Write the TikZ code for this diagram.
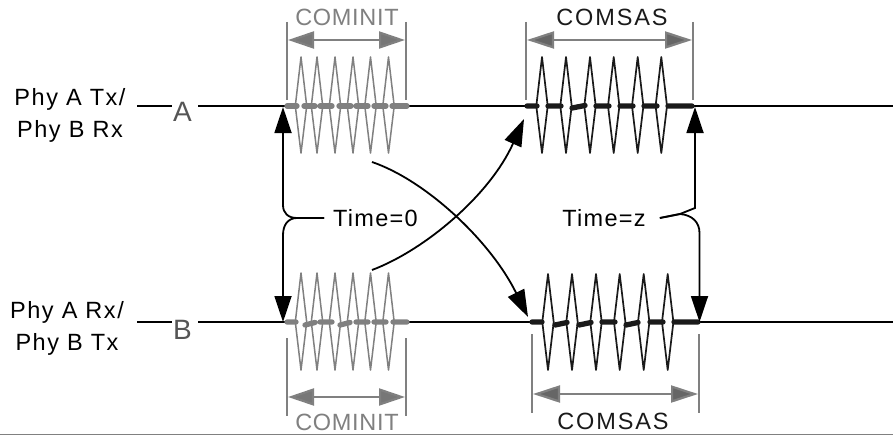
\documentclass[tikz,border=0pt]{standalone}
\usepackage{fontspec}
\usepackage{tikz}
\usetikzlibrary{arrows.meta}

\setmainfont{Liberation Sans}
\newfontfamily\phyfont[LetterSpace=6.5]{Liberation Sans}
\newfontfamily\timefont[LetterSpace=5.5]{Liberation Sans}
\newfontfamily\cominitfont[LetterSpace=3]{Liberation Sans}
\newfontfamily\comsasfont[LetterSpace=8]{Liberation Sans}

\definecolor{initgray}{HTML}{808080}
\definecolor{inithead}{HTML}{777777}
\definecolor{sashead}{HTML}{666666}
\definecolor{sasblack}{HTML}{1A1A1A}
\definecolor{lettergray}{HTML}{555555}

\tikzset{
  wire/.style={line width=1.8pt, black},
  timearrow/.style={line width=1.8pt, black, -{Triangle[length=26pt,width=17pt]}},
  flyarrow/.style={line width=1.8pt, black, -{Triangle[length=27pt,width=18pt]}},
  initspike/.style={line width=1.5pt, initgray, line join=round},
  sasspike/.style={line width=1.7pt, sasblack, line join=round},
  initdash/.style={line width=5.3pt, initgray, line cap=round},
  sasdash/.style={line width=5.3pt, sasblack, line cap=round},
  fence/.style={line width=1.7pt, initgray},
  initspan/.style={line width=2.2pt, initgray, {Triangle[length=26pt,width=17pt,fill=inithead]}-{Triangle[length=26pt,width=17pt,fill=inithead]}},
  sasspan/.style={line width=2.2pt, initgray, {Triangle[length=27pt,width=17pt,fill=sashead]}-{Triangle[length=27pt,width=17pt,fill=sashead]}},
  phylabel/.style={font=\phyfont\fontsize{23.5}{32}\selectfont, align=center, inner sep=0pt},
  linelabel/.style={font=\fontsize{28}{32}\selectfont, text=lettergray, inner sep=0pt},
  timelabel/.style={font=\timefont\fontsize{23.5}{26}\selectfont, inner xsep=9pt, inner ysep=0pt},
  initlabel/.style={font=\cominitfont\fontsize{23.5}{26}\selectfont, text=initgray, inner sep=0pt},
  saslabel/.style={font=\comsasfont\fontsize{23.5}{26}\selectfont, text=sasblack, inner sep=0pt}
}

\begin{document}
\begin{tikzpicture}[x=1pt, y=-1pt]

    \useasboundingbox (0,0) rectangle (893,436);

            % Line labels
            \node[phylabel] (phyA) at (70,115) {Phy A Tx/\\Phy B Rx};
            \node[phylabel] (phyB) at (67,328) {Phy A Rx/\\Phy B Tx};
            \node[linelabel] (letterA) at (182.5,112) {A};
            \node[linelabel] (letterB) at (182.5,330) {B};

            % Signal line A
            \draw[wire] (137,106) -- (172,106);
            \draw[wire] (198,106) -- (285,106);
            \draw[wire] (408,106) -- (525,106);
            \draw[wire] (693,106) -- (893,106);

            % Signal line B
            \draw[wire] (137,322) -- (172,322);
            \draw[wire] (198,322) -- (285,322);
            \draw[wire] (408,322) -- (530,322);
            \draw[wire] (698,322) -- (893,322);

            % COMINIT burst on line A
            \draw[initspike] (301,57) -- (306.7,106) -- (301,153) -- (295.3,106) -- cycle;
            \draw[initspike] (317,57) -- (322.7,106) -- (317,153) -- (311.3,106) -- cycle;
            \draw[initspike] (335,57) -- (340.7,106) -- (335,153) -- (329.3,106) -- cycle;
            \draw[initspike] (353,57) -- (358.7,106) -- (353,153) -- (347.3,106) -- cycle;
            \draw[initspike] (370.5,57) -- (376.2,106) -- (370.5,153) -- (364.8,106) -- cycle;
            \draw[initspike] (388.5,57) -- (394.2,106) -- (388.5,153) -- (382.8,106) -- cycle;
            \draw[initdash] (287,106) -- (297,106) (304,106) -- (315,106) (320,106) -- (332,106)
                (339,106) -- (351,106) (356,106) -- (368,106) (374,106) -- (386,106) (392,106) -- (407,106);

            % COMSAS burst on line A
            \draw[sasspike] (542,57) -- (547.7,106) -- (542,153) -- (536.3,106) -- cycle;
            \draw[sasspike] (566,57) -- (571.7,106) -- (566,153) -- (560.3,106) -- cycle;
            \draw[sasspike] (590,57) -- (595.7,106) -- (590,153) -- (584.3,106) -- cycle;
            \draw[sasspike] (613.7,57) -- (619.4,106) -- (613.7,153) -- (608,106) -- cycle;
            \draw[sasspike] (637.7,57) -- (643.4,106) -- (637.7,153) -- (632,106) -- cycle;
            \draw[sasspike] (661.3,57) -- (667,106) -- (661.3,153) -- (655.6,106) -- cycle;
            \draw[sasdash] (527,106) -- (537,106) (548,106) -- (561,106) (572,108) -- (585,105.5)
                (596,106) -- (609,106) (620,106) -- (633,106) (644,106) -- (657,106) (668,106) -- (692,106);

            % COMINIT burst on line B
            \draw[initspike] (301,273) -- (306.7,322) -- (301,370) -- (295.3,322) -- cycle;
            \draw[initspike] (317,273) -- (322.7,322) -- (317,370) -- (311.3,322) -- cycle;
            \draw[initspike] (335,273) -- (340.7,322) -- (335,370) -- (329.3,322) -- cycle;
            \draw[initspike] (353,273) -- (358.7,322) -- (353,370) -- (347.3,322) -- cycle;
            \draw[initspike] (370.5,273) -- (376.2,322) -- (370.5,370) -- (364.8,322) -- cycle;
            \draw[initspike] (388.5,273) -- (394.2,322) -- (388.5,370) -- (382.8,322) -- cycle;
            \draw[initdash] (287,322) -- (296,322) (305,325) -- (315,322.5) (320,322) -- (332,322)
                (340,325) -- (350,322.5) (356,322) -- (368,322) (374,322) -- (386,322) (393,322) -- (407,322);

            % COMSAS burst on line B
            \draw[sasspike] (548,274) -- (553.7,322) -- (548,370) -- (542.3,322) -- cycle;
            \draw[sasspike] (572,274) -- (577.7,322) -- (572,370) -- (566.3,322) -- cycle;
            \draw[sasspike] (596,274) -- (601.7,322) -- (596,370) -- (590.3,322) -- cycle;
            \draw[sasspike] (619.7,274) -- (625.4,322) -- (619.7,370) -- (614,322) -- cycle;
            \draw[sasspike] (643.7,274) -- (649.4,322) -- (643.7,370) -- (638,322) -- cycle;
            \draw[sasspike] (667.7,274) -- (673.4,322) -- (667.7,370) -- (662,322) -- cycle;
            \draw[sasdash] (532,322) -- (542,322) (555,325) -- (567,322.5) (579,325) -- (591,322.5)
                (602,322) -- (615,322) (626,325) -- (638,322.5) (650,322) -- (663,322) (674,322) -- (698,322);

            % Top spans
            \draw[fence] (287,22) -- (287,100);
            \draw[fence] (406,22) -- (406,100);
            \draw[initspan] (288,40) -- (405,40);
            \node[initlabel] (initTop) at (347,17.5) {COMINIT};
            \draw[fence] (526,22) -- (526,100);
            \draw[fence] (693,22) -- (693,100);
            \draw[sasspan] (527,40) -- (692,40);
            \node[saslabel] (sasTop) at (612,17.5) {COMSAS};

            % Bottom spans
            \draw[fence] (287,338) -- (287,416);
            \draw[fence] (406,338) -- (406,416);
            \draw[initspan] (288,397) -- (405,397);
            \node[initlabel] (initBottom) at (347,422) {COMINIT};
            \draw[fence] (532,334) -- (532,413);
            \draw[fence] (699,334) -- (699,413);
            \draw[sasspan] (533,394) -- (698,394);
            \node[saslabel] (sasBottom) at (613,421) {COMSAS};

            % Time marks and their arrow ends
            \node[timelabel] (timeZero) at (375.5,218) {Time=0};
            \node[timelabel, inner xsep=14pt] (timeZ) at (604,218) {Time=z};
            \coordinate (tipZeroA) at (283,107);
            \coordinate (tipZeroB) at (283,322);
            \coordinate (tipZA) at (695,107);
            \coordinate (tipZB) at (699.5,322);

            % Brace at Time=0
            \draw[timearrow] (timeZero.west) -- (297,218) .. controls (288,218) and (283,213) .. (283,205) -- (tipZeroA);
            \draw[timearrow] (timeZero.west) -- (297,218) .. controls (288,218) and (283,225) .. (283,235) -- (tipZeroB);

            % Brace at Time=z
            \draw[timearrow] (timeZ.east) -- (680,214) -- (695,208) -- (tipZA);
            \draw[timearrow] (timeZ.east) -- (680,214) .. controls (692,215) and (699.5,222) .. (699.5,233) -- (tipZB);

            % Crossing arrows
            \coordinate (startDown) at (372,162);
            \coordinate (tipDown) at (528,317);
            \coordinate (startUp) at (372,270);
            \coordinate (tipUp) at (524,119);
            \draw[flyarrow] (startDown) .. controls (425,180) and (490,240) .. (tipDown);
            \draw[flyarrow] (startUp) .. controls (425,250) and (490,195) .. (tipUp);

            % Rule along the bottom edge
            \draw[line width=1.5pt, initgray] (0,434.7) -- (893,434.7);

        \end{tikzpicture}
\end{document}
